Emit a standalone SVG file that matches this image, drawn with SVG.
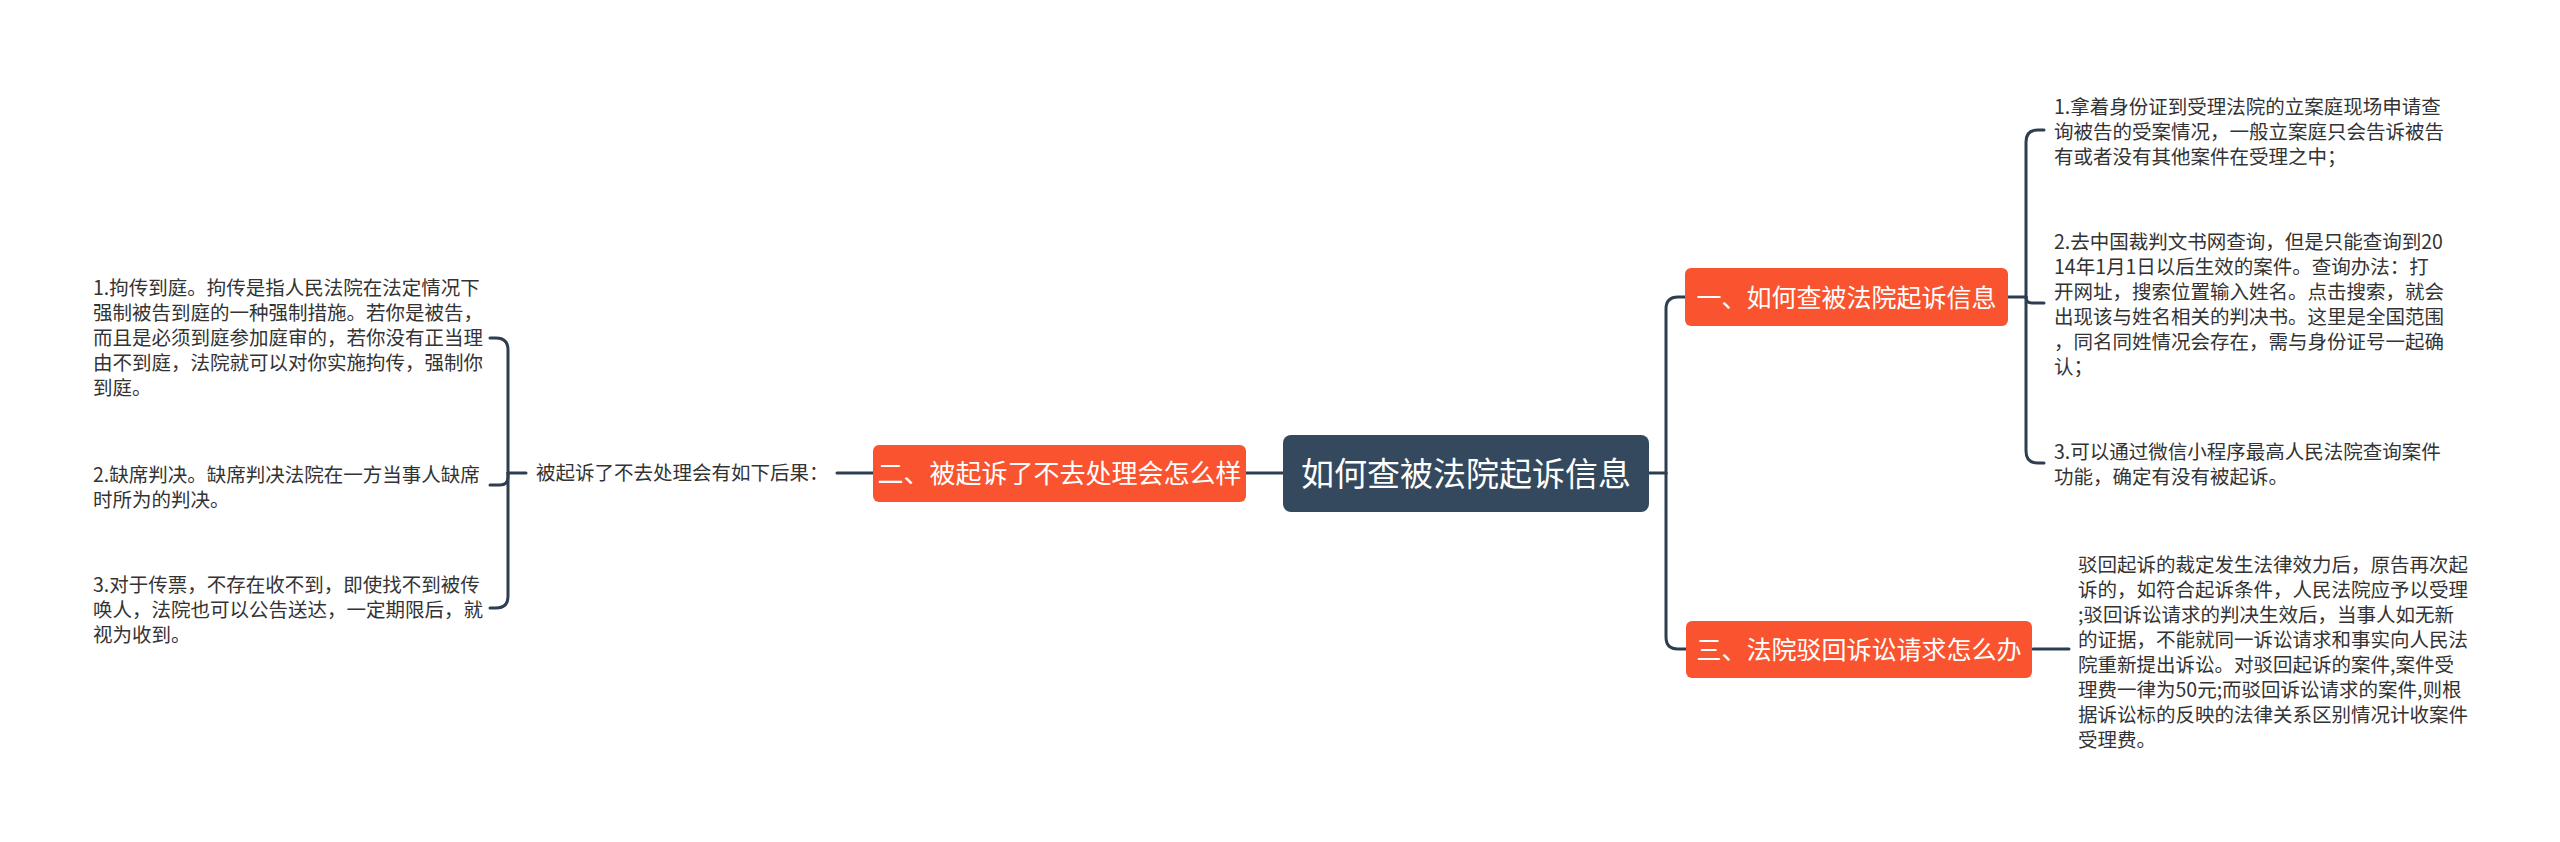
<svg xmlns="http://www.w3.org/2000/svg" width="2560" height="842" viewBox="0 0 2560 842">
<style>
.bg{fill:#ffffff}
.line{fill:none;stroke:#2c3e50;stroke-width:3;stroke-linecap:round}
.main{fill:#34495e}
.sub{fill:#f9542f}
.t{font-family:"Noto Sans CJK SC","Liberation Sans",sans-serif;fill:#333333;font-size:19.5px}
.nt{font-family:"Noto Sans CJK SC","Liberation Sans",sans-serif;fill:#ffffff;text-anchor:middle}
</style>
<rect class="bg" x="0" y="0" width="2560" height="842"/>
<g id="connectors">
<path class="line" d="M1649,473 H1666"/>
<path class="line" d="M1666,473 V309 Q1666,297 1678,297 H1685"/>
<path class="line" d="M1666,473 V637 Q1666,649 1678,649 H1686"/>
<path class="line" d="M1283,473 H1246"/>
<path class="line" d="M873,473 H837"/>
<path class="line" d="M526,473 H508"/>
<path class="line" d="M508,473 V350 Q508,338 496,338 H490"/>
<path class="line" d="M508,473 V477 Q508,485 500,485 H490"/>
<path class="line" d="M508,473 V596 Q508,608 496,608 H490"/>
<path class="line" d="M2008,297 H2026"/>
<path class="line" d="M2026,297 V142 Q2026,130 2038,130 H2044"/>
<path class="line" d="M2026,297 Q2026,303 2032,303 H2044"/>
<path class="line" d="M2026,297 V451 Q2026,463 2038,463 H2044"/>
<path class="line" d="M2033,649 H2069"/>
</g>
<g id="root">
<rect class="main" x="1283" y="435" width="366" height="77" rx="8"/>
<text class="nt" x="1466" y="486" font-size="33">如何查被法院起诉信息</text>
</g>
<g id="branch1">
<rect class="sub" x="1685" y="268" width="323" height="58" rx="6"/>
<text class="nt" x="1846.5" y="306.5" font-size="25">一、如何查被法院起诉信息</text>
</g>
<g id="branch2">
<rect class="sub" x="873" y="445" width="373" height="57" rx="6"/>
<text class="nt" x="1059.5" y="483" font-size="26">二、被起诉了不去处理会怎么样</text>
</g>
<g id="branch3">
<rect class="sub" x="1686" y="621" width="346" height="57" rx="6"/>
<text class="nt" x="1859" y="659" font-size="25">三、法院驳回诉讼请求怎么办</text>
</g>
<g id="b1-item1">
<text class="t" x="2054" y="114">1.拿着身份证到受理法院的立案庭现场申请查</text>
<text class="t" x="2054" y="139">询被告的受案情况，一般立案庭只会告诉被告</text>
<text class="t" x="2054" y="164">有或者没有其他案件在受理之中；</text>
</g>
<g id="b1-item2">
<text class="t" x="2054" y="249">2.去中国裁判文书网查询，但是只能查询到20</text>
<text class="t" x="2054" y="274">14年1月1日以后生效的案件。查询办法：打</text>
<text class="t" x="2054" y="299">开网址，搜索位置输入姓名。点击搜索，就会</text>
<text class="t" x="2054" y="324">出现该与姓名相关的判决书。这里是全国范围</text>
<text class="t" x="2054" y="349">，同名同姓情况会存在，需与身份证号一起确</text>
<text class="t" x="2054" y="374">认；</text>
</g>
<g id="b1-item3">
<text class="t" x="2054" y="459">3.可以通过微信小程序最高人民法院查询案件</text>
<text class="t" x="2054" y="484">功能，确定有没有被起诉。</text>
</g>
<g id="b2-label">
<text class="t" x="536" y="480">被起诉了不去处理会有如下后果：</text>
</g>
<g id="b2-item1">
<text class="t" x="93" y="295">1.拘传到庭。拘传是指人民法院在法定情况下</text>
<text class="t" x="93" y="320">强制被告到庭的一种强制措施。若你是被告，</text>
<text class="t" x="93" y="345">而且是必须到庭参加庭审的，若你没有正当理</text>
<text class="t" x="93" y="370">由不到庭，法院就可以对你实施拘传，强制你</text>
<text class="t" x="93" y="395">到庭。</text>
</g>
<g id="b2-item2">
<text class="t" x="93" y="482">2.缺席判决。缺席判决法院在一方当事人缺席</text>
<text class="t" x="93" y="507">时所为的判决。</text>
</g>
<g id="b2-item3">
<text class="t" x="93" y="592">3.对于传票，不存在收不到，即使找不到被传</text>
<text class="t" x="93" y="617">唤人，法院也可以公告送达，一定期限后，就</text>
<text class="t" x="93" y="642">视为收到。</text>
</g>
<g id="b3-item1">
<text class="t" x="2078" y="572">驳回起诉的裁定发生法律效力后，原告再次起</text>
<text class="t" x="2078" y="597">诉的，如符合起诉条件，人民法院应予以受理</text>
<text class="t" x="2078" y="622">;驳回诉讼请求的判决生效后，当事人如无新</text>
<text class="t" x="2078" y="647">的证据，不能就同一诉讼请求和事实向人民法</text>
<text class="t" x="2078" y="672">院重新提出诉讼。对驳回起诉的案件,案件受</text>
<text class="t" x="2078" y="697">理费一律为50元;而驳回诉讼请求的案件,则根</text>
<text class="t" x="2078" y="722">据诉讼标的反映的法律关系区别情况计收案件</text>
<text class="t" x="2078" y="747">受理费。</text>
</g>
</svg>
